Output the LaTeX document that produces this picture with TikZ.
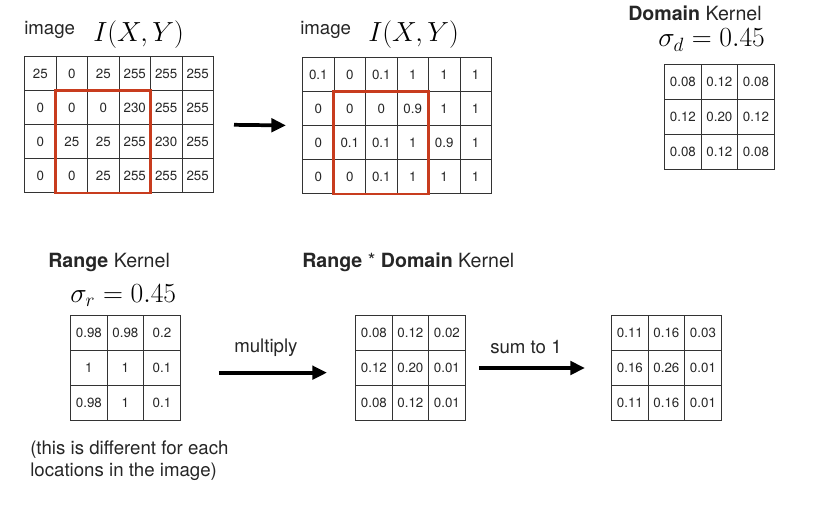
\documentclass[tikz,border=0pt]{standalone}
\usepackage{fontspec}
\newfontfamily\helv{TeX Gyre Heros}
\usepackage{tikz}
\usetikzlibrary{matrix, arrows.meta}

\definecolor{winred}{RGB}{200,60,30}

\tikzset{
  imgcell/.style={draw=black!80, line width=0.5pt, anchor=center, minimum width=23.6pt, minimum height=25.5pt, inner sep=0pt, text height=7.2pt, text depth=0pt, text=black!85, font=\helv\fontsize{10}{12}\selectfont},
  kercell/.style={imgcell, minimum width=27.4pt, minimum height=26.2pt},
  cellgrid/.style={matrix of nodes, inner sep=0pt, anchor=north west, column sep=-0.5pt, row sep=-0.5pt},
  txtlbl/.style={inner sep=0pt, anchor=base west, text=black!85, font=\helv\fontsize{14}{16.5}\selectfont},
  headlbl/.style={txtlbl, font=\helv\fontsize{14.7}{17}\selectfont},
  mathlbl/.style={inner sep=0pt, anchor=base west, font=\fontsize{20.74}{25}\selectfont},
  window/.style={draw=winred, line width=2pt},
  bigarrow/.style={-{Triangle[length=11pt, width=10pt]}, line width=2.8pt},
}

\begin{document}
\begin{tikzpicture}[x=0.75pt, y=-0.75pt]
\useasboundingbox (0,0) rectangle (838,510);

  % Labels
  \node (imgtxt) [txtlbl] at (24,35) {image};
  \node (imgmath) [mathlbl] at (93,42) {$I(X,Y)$};
  \node (normtxt) [txtlbl] at (300,35) {image};
  \node (normmath) [mathlbl] at (368,42) {$I(X,Y)$};
  \node (domtxt) [headlbl] at (628,21) {\bfseries Domain \mdseries Kernel};
  \node (dommath) [mathlbl] at (658,47) {$\sigma_d = 0.45$};
  \node (rantxt) [headlbl] at (48,267) {\bfseries Range \mdseries Kernel};
  \node (ranmath) [mathlbl] at (70,302) {$\sigma_r = 0.45$};
  \node (prodtxt) [headlbl] at (302,267) {\bfseries Range \mdseries * \bfseries Domain \mdseries Kernel};
  \node (multtxt) [txtlbl] at (234,352) {multiply};
  \node (sumtxt) [txtlbl] at (490,353) {sum to 1};
  \node (note) [txtlbl, anchor=north west, align=left] at (30,441) {(this is different for each\\locations in the image)};

  % Grids
  \matrix (img) [cellgrid, nodes=imgcell] at (24,56) {
    25 & 0 & 25 & 255 & 255 & 255 \\
    0 & 0 & 0 & 230 & 255 & 255 \\
    0 & 25 & 25 & 255 & 230 & 255 \\
    0 & 0 & 25 & 255 & 255 & 255 \\
  };
  \matrix (norm) [cellgrid, nodes=imgcell] at (302,57) {
    0.1 & 0 & 0.1 & 1 & 1 & 1 \\
    0 & 0 & 0 & 0.9 & 1 & 1 \\
    0 & 0.1 & 0.1 & 1 & 0.9 & 1 \\
    0 & 0 & 0.1 & 1 & 1 & 1 \\
  };
  \matrix (dom) [cellgrid, nodes=kercell] at (664,64) {
    0.08 & 0.12 & 0.08 \\
    0.12 & 0.20 & 0.12 \\
    0.08 & 0.12 & 0.08 \\
  };
  \matrix (ran) [cellgrid, nodes=kercell] at (70,315) {
    0.98 & 0.98 & 0.2 \\
    1 & 1 & 0.1 \\
    0.98 & 1 & 0.1 \\
  };
  \matrix (prod) [cellgrid, nodes=kercell] at (355,315) {
    0.08 & 0.12 & 0.02 \\
    0.12 & 0.20 & 0.01 \\
    0.08 & 0.12 & 0.01 \\
  };
  \matrix (final) [cellgrid, nodes=kercell] at (611,315) {
    0.11 & 0.16 & 0.03 \\
    0.16 & 0.26 & 0.01 \\
    0.11 & 0.16 & 0.01 \\
  };

  % Windows
  \draw[window] (img-2-2.north west) rectangle (img-4-4.south east);
  \draw[window] (norm-2-2.north west) rectangle (norm-4-4.south east);

  % Arrows
  \draw[bigarrow, shorten <=15pt, shorten >=12pt] (img.east) -- (norm.west);
  \draw[bigarrow, shorten <=28.5pt, shorten >=21pt] ([yshift=-3.5pt]ran.east) -- ([yshift=-3.5pt]prod.west);
  \draw[bigarrow, shorten <=9.75pt, shorten >=19.5pt] (prod.east) -- (final.west);

\end{tikzpicture}
\end{document}
